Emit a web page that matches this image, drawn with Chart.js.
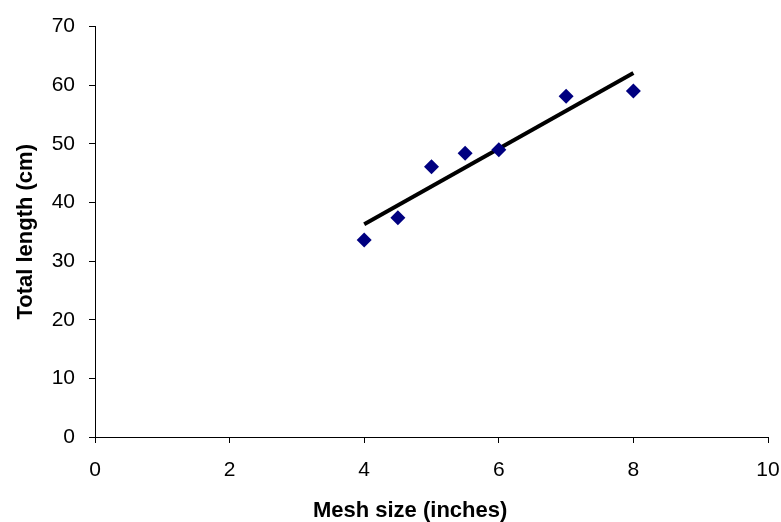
<!DOCTYPE html>
<html>
<head>
<meta charset="utf-8">
<script src="https://cdn.jsdelivr.net/npm/chart.js@4"></script>
<style>
  html, body { margin: 0; padding: 0; background: #fff; }
</style>
</head>
<body>
<canvas id="chart" width="781" height="522"></canvas>
<script>
// mesh size (inches) vs total length (cm)
const meshSize = [4, 4.5, 5, 5.5, 6, 7, 8];
const totalLength = [33.6, 37.4, 46.1, 48.4, 49.0, 58.1, 59.0];

// linear trend line end points
const trendX = [4, 8];
const trendY = [36.3, 62.1];

const xTicks = [0, 2, 4, 6, 8, 10];
const yTicks = [0, 10, 20, 30, 40, 50, 60, 70];

const fontFamily = "'Liberation Sans', Arial, sans-serif";

const ctx = document.querySelector('#chart').getContext('2d');

new Chart(ctx, {
    type: 'scatter',
    data: {
        datasets: [
            {
                label: 'Trend',
                type: 'line',
                data: trendX.map((x, i) => ({ x: x, y: trendY[i] })),
                borderColor: '#000',
                borderWidth: 4,
                pointRadius: 0,
                fill: false,
                order: 1
            },
            {
                label: 'Total length',
                data: meshSize.map((x, i) => ({ x: x, y: totalLength[i] })),
                pointStyle: 'rectRot',
                pointRadius: 7.5,
                backgroundColor: '#000080',
                borderColor: '#000080',
                borderWidth: 0,
                order: 0
            }
        ]
    },
    options: {
        responsive: false,
        animation: false,
        layout: { padding: { top: 25, right: 0, bottom: 0, left: 0 } },
        plugins: {
            legend: { display: false },
            tooltip: { enabled: false }
        },
        scales: {
            x: {
                type: 'linear',
                min: 0,
                max: 10,
                afterBuildTicks: s => { s.ticks = xTicks.map(v => ({ value: v })); },
                afterFit: s => {
                    s.height = 85;
                    s.paddingLeft = 0;
                    s.paddingRight = 13;
                },
                ticks: {
                    color: '#000',
                    font: { family: fontFamily, size: 21 },
                    padding: 15,
                    maxRotation: 0
                },
                grid: {
                    drawOnChartArea: false,
                    drawTicks: true,
                    tickLength: 6,
                    color: '#000'
                },
                border: { color: '#000', width: 1 },
                title: {
                    display: true,
                    // trailing spaces nudge the title left, like the original
                    text: 'Mesh size (inches)' + '\u00a0'.repeat(7),
                    color: '#000',
                    font: { family: fontFamily, size: 22, weight: 'bold' },
                    padding: { top: 0, bottom: -2 }
                }
            },
            y: {
                type: 'linear',
                min: 0,
                max: 70,
                afterBuildTicks: s => { s.ticks = yTicks.map(v => ({ value: v })); },
                afterFit: s => { s.width = 95; },
                ticks: {
                    color: '#000',
                    font: { family: fontFamily, size: 21 },
                    padding: 14
                },
                grid: {
                    drawOnChartArea: false,
                    drawTicks: true,
                    tickLength: 6,
                    color: '#000'
                },
                border: { color: '#000', width: 1 },
                title: {
                    display: true,
                    text: 'Total length (cm)',
                    color: '#000',
                    font: { family: fontFamily, size: 22, weight: 'bold' },
                    padding: { top: 13, bottom: 0 }
                }
            }
        }
    }
});
</script>
</body>
</html>
